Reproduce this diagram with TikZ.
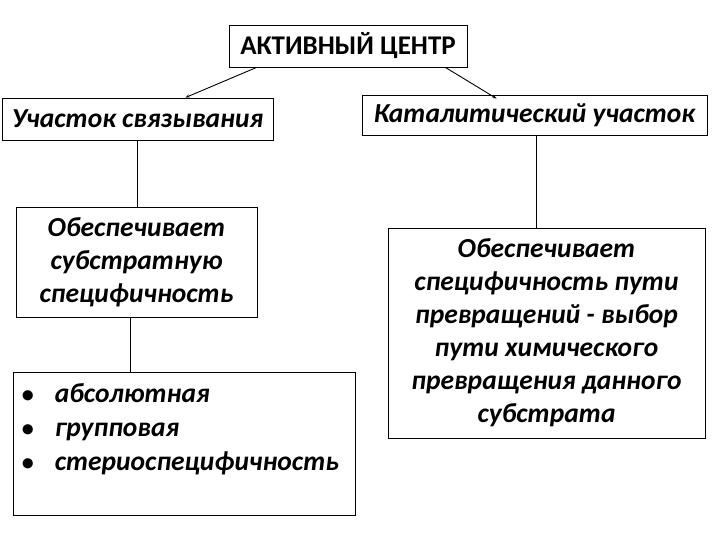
\documentclass[tikz,border=0pt]{standalone}
\usepackage{fontspec}
\setmainfont{Carlito}
\usetikzlibrary{calc,arrows.meta}
\begin{document}
\begin{tikzpicture}[x=1pt,y=-1pt,
  box/.style={draw,line width=0.9pt,inner sep=0pt,align=center},
  conn/.style={line width=0.9pt},
  arr/.style={line width=0.9pt,-{Stealth[length=4pt,width=3pt]}},
  txt/.style={font=\fontsize{27.5}{33}\selectfont\bfseries\itshape}]
\useasboundingbox (0,0) rectangle (720,540);
\node[box,minimum width=238pt,minimum height=42pt,font=\fontsize{27}{30}\selectfont\bfseries] (title) at (348,46) {АКТИВНЫЙ ЦЕНТР};
\node[box,txt,minimum width=271pt,minimum height=42pt] (b1) at (137.5,119) {Участок связывания};
\node[box,txt,minimum width=345pt,minimum height=40pt] (b2) at (534.5,115) {Каталитический участок};
\node[box,txt,minimum width=241pt,minimum height=110pt] (b3) at (136.5,262) {Обеспечивает\\субстратную\\специфичность};
\node[box,minimum width=342pt,minimum height=143pt] (b4) at (184,443.5) {};
\node[anchor=north west,inner sep=0pt,align=left,font=\fontsize{27.5}{34}\selectfont\bfseries\itshape] (b4t) at ($(b4.north west)+(9,12)$) {%
  \makebox[33pt][l]{\upshape\fontsize{24}{24}\selectfont •}абсолютная\\
  \makebox[33pt][l]{\upshape\fontsize{24}{24}\selectfont •}групповая\\
  \makebox[33pt][l]{\upshape\fontsize{24}{24}\selectfont •}стериоспецифичность};
\node[box,txt,minimum width=317pt,minimum height=210pt,text depth=4pt] (b5) at (546.5,333) {Обеспечивает\\специфичность пути\\превращений - выбор\\пути химического\\превращения данного\\субстрата};
\coordinate (c3) at ($(b3.south)+(-6,0)$);
\coordinate (c2) at ($(b2.south)+(1.5,0)$);
\draw[arr] ($(title.south west)+(28,0)$) -- ($(b1.north east)+(-88,0)$);
\draw[arr] ($(title.south east)+(-22,0)$) -- ($(b2.north west)+(135,4)$);
\draw[conn] (b1.south) -- (b1.south |- b3.north);
\draw[conn] (c3) -- (c3 |- b4.north);
\draw[conn] (c2) -- (c2 |- b5.north);
\end{tikzpicture}
\end{document}
